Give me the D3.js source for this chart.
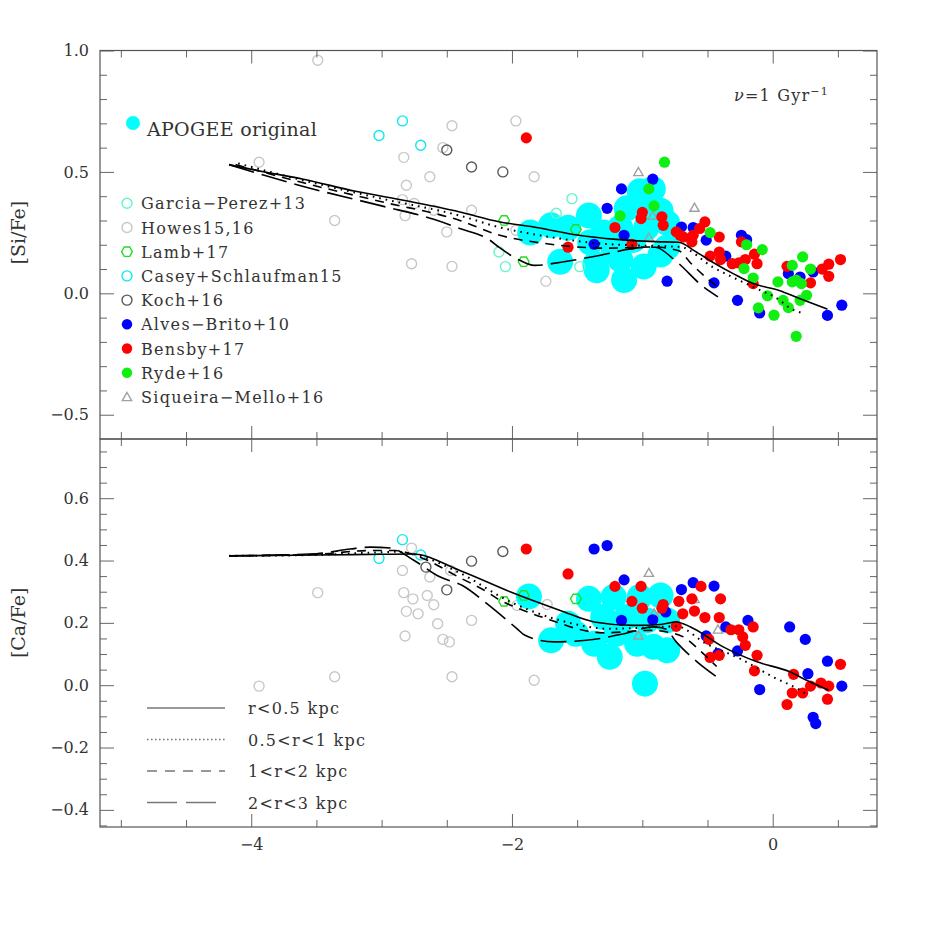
<!DOCTYPE html>
<html>
<head>
<meta charset="utf-8">
<script src="https://cdn.jsdelivr.net/npm/d3@7"></script>
<style>
  body { margin: 0; background: #fff; }
  svg text { font-family: "DejaVu Serif", serif; fill: #333; }
</style>
</head>
<body>
<svg id="chart" width="926" height="926"></svg>
<script>
// ---- [Si/Fe] panel data ([Fe/H], [Si/Fe]) ----
const siHowes = [[-3.49,0.96],[-3.94,0.54],[-3.36,0.30],[-2.83,0.56],[-2.63,0.48],[-2.81,0.445],[-2.84,0.386],[-2.75,0.37],[-2.82,0.32],[-2.6,0.342],[-2.31,0.342],[-2.50,0.253],[-2.77,0.122],[-2.46,0.111],[-2.46,0.69],[-2.53,0.60],[-1.97,0.71],[-1.83,0.48],[-1.74,0.05],[-1.97,0.26]]
const siGarcia = [[-1.54,0.39],[-1.66,0.33],[-2.10,0.17],[-2.05,0.11],[-1.48,0.11]]
const siLamb = [[-2.06,0.30],[-1.91,0.13],[-1.51,0.263]]
const siCasey = [[-3.02,0.65],[-2.84,0.71],[-2.70,0.61]]
const siKoch = [[-2.50,0.59],[-2.31,0.52],[-2.07,0.50]]
const siSiqueira = [[-1.03,0.50],[-0.60,0.353],[-0.92,0.32],[-0.95,0.23]]
const siApogee = [[-1.86,0.25],[-1.70,0.28],[-1.57,0.27],[-1.41,0.32],[-1.40,0.21],[-1.63,0.13],[-1.36,0.12],[-1.35,0.095],[-1.14,0.055],[-1.22,0.18],[-1.12,0.35],[-1.02,0.42],[-0.92,0.43],[-0.94,0.38],[-0.86,0.34],[-0.81,0.29],[-0.97,0.27],[-1.17,0.27],[-1.07,0.22],[-0.86,0.16],[-0.99,0.11],[-1.17,0.14],[-1.30,0.25],[-0.81,0.19]]
const siAlves = [[-0.92,0.47],[-1.16,0.43],[-1.27,0.35],[-1.14,0.239],[-1.37,0.202],[-0.81,0.05],[-0.70,0.273],[-0.61,0.271],[-0.51,0.219],[-0.36,0.153],[-0.45,0.043],[-0.24,0.239],[-0.20,0.221],[-0.27,-0.029],[-0.10,-0.081],[0.12,0.081],[0.31,0.088],[0.42,-0.091],[0.53,-0.049],[0.21,0.067]]
const siBensby = [[-1.89,0.64],[-1.21,0.271],[-1.0,0.333],[-1.01,0.308],[-0.85,0.315],[-0.84,0.28],[-1.57,0.19],[-1.08,0.202],[-0.74,0.253],[-0.71,0.239],[-0.685,0.232],[-0.62,0.212],[-0.61,0.239],[-0.56,0.267],[-0.52,0.294],[-0.41,0.232],[-0.48,0.153],[-0.41,0.17],[-0.40,0.139],[-0.31,0.122],[-0.26,0.125],[-0.21,0.139],[-0.14,0.161],[-0.12,0.122],[-0.24,0.212],[-0.15,0.04],[0.11,0.111],[0.29,0.043],[0.38,0.10],[0.43,0.12],[0.43,0.07],[0.52,0.139]]
const siRyde = [[-0.83,0.54],[-0.95,0.43],[-0.91,0.36],[-1.17,0.319],[-0.48,0.25],[-0.20,0.20],[-0.08,0.18],[-0.22,0.102],[-0.15,0.063],[-0.04,-0.01],[-0.11,-0.06],[0.01,-0.09],[0.04,0.047],[0.08,-0.029],[0.12,-0.059],[0.15,0.115],[0.23,0.15],[0.29,0.10],[0.15,0.047],[0.18,0.054],[0.22,0.04],[0.26,-0.008],[0.21,-0.029],[0.18,-0.177]]
// model tracks, [Si/Fe]
const siModelR05 = [[-4.17,0.53],[-3.9,0.50],[-3.6,0.47],[-3.2,0.42],[-2.8,0.38],[-2.4,0.335],[-2.1,0.295],[-1.8,0.27],[-1.5,0.24],[-1.2,0.222],[-0.9,0.213],[-0.72,0.21],[-0.6,0.175],[-0.45,0.125],[-0.3,0.08],[-0.15,0.04],[0.05,0.012],[0.2,-0.02],[0.42,-0.065]]
const siModelR1 = [[-4.1,0.535],[-3.6,0.465],[-3.0,0.39],[-2.4,0.32],[-2.09,0.271],[-1.8,0.24],[-1.32,0.205],[-0.9,0.195],[-0.71,0.191],[-0.46,0.108],[-0.15,0.026],[0.056,-0.029],[0.13,-0.06],[0.22,-0.08]]
const siModelR2 = [[-4.12,0.53],[-3.6,0.455],[-3.0,0.377],[-2.4,0.30],[-2.1,0.24],[-1.76,0.206],[-1.25,0.186],[-0.92,0.191],[-0.72,0.175],[-0.63,0.125],[-0.5,0.06],[-0.43,0.03]]
const siModelR3 = [[-4.17,0.53],[-3.6,0.44],[-3.0,0.36],[-2.6,0.305],[-2.4,0.267],[-2.17,0.219],[-2.1,0.19],[-1.94,0.136],[-1.83,0.115],[-1.6,0.13],[-1.32,0.157],[-1.02,0.188],[-0.9,0.19],[-0.75,0.136],[-0.53,0.026],[-0.42,-0.015]]

// ---- [Ca/Fe] panel data ----
const caHowes = [[-2.77,0.44],[-2.84,0.368],[-2.63,0.347],[-2.83,0.297],[-2.76,0.277],[-2.65,0.288],[-2.60,0.258],[-2.81,0.237],[-2.72,0.229],[-2.57,0.197],[-2.82,0.158],[-2.53,0.147],[-2.48,0.139],[-2.31,0.208],[-2.46,0.027],[-3.36,0.027],[-3.94,-0.003],[-3.49,0.297],[-2.47,0.368],[-1.96,0.256],[-1.73,0.259],[-1.83,0.016]]
const caCasey = [[-2.84,0.467],[-3.02,0.407],[-2.70,0.418]]
const caKoch = [[-2.66,0.379],[-2.50,0.306],[-2.31,0.398],[-2.07,0.429]]
const caLamb = [[-2.06,0.269],[-1.91,0.288],[-1.51,0.277]]
const caSiqueira = [[-0.95,0.361],[-0.91,0.231],[-1.03,0.16],[-0.42,0.179],[-0.60,0.277]]
const caApogee = [[-1.87,0.285],[-1.70,0.144],[-1.57,0.197],[-1.55,0.176],[-1.41,0.277],[-1.37,0.133],[-1.30,0.219],[-1.25,0.091],[-1.22,0.283],[-1.20,0.165],[-1.12,0.219],[-1.04,0.133],[-1.02,0.283],[-0.965,0.208],[-0.915,0.123],[-0.86,0.288],[-0.81,0.208],[-0.81,0.112],[-0.98,0.005],[-1.51,0.165]]
const caAlves = [[-1.37,0.437],[-1.27,0.448],[-1.14,0.338],[-1.16,0.208],[-0.92,0.21],[-0.82,0.235],[-0.70,0.307],[-0.61,0.329],[-0.45,0.318],[-0.36,0.187],[-0.51,0.158],[-0.27,0.11],[-0.19,0.208],[-0.42,0.101],[-0.10,-0.014],[0.13,0.187],[0.25,0.147],[0.27,0.037],[0.42,0.077],[0.53,-0.003],[0.31,-0.103],[0.33,-0.123]]
const caBensby = [[-1.89,0.437],[-1.57,0.357],[-1.21,0.317],[-1.01,0.317],[-1.08,0.269],[-1.0,0.247],[-0.84,0.259],[-0.85,0.247],[-0.72,0.269],[-0.69,0.229],[-0.74,0.189],[-0.62,0.277],[-0.55,0.317],[-0.60,0.238],[-0.52,0.217],[-0.40,0.277],[-0.41,0.217],[-0.49,0.147],[-0.48,0.089],[-0.41,0.096],[-0.32,0.178],[-0.26,0.178],[-0.23,0.155],[-0.21,0.128],[-0.15,0.187],[-0.12,0.096],[-0.14,0.046],[0.16,0.035],[0.15,-0.025],[0.11,-0.062],[0.23,-0.025],[0.29,-0.003],[0.37,0.007],[0.43,-0.003],[0.42,-0.045],[0.52,0.067]]
// model tracks, [Ca/Fe]
const caModelR05 = [[-4.17,0.415],[-3.5,0.418],[-3.0,0.42],[-2.76,0.421],[-2.4,0.368],[-2.01,0.299],[-1.63,0.24],[-1.37,0.203],[-1.07,0.192],[-0.86,0.195],[-0.74,0.203],[-0.63,0.187],[-0.38,0.123],[-0.12,0.075],[0.13,0.043],[0.26,0.016],[0.43,-0.016]]
const caModelR1 = [[-4.17,0.415],[-3.5,0.418],[-3.1,0.425],[-2.9,0.428],[-2.75,0.42],[-2.4,0.36],[-2.01,0.267],[-1.63,0.208],[-1.25,0.181],[-0.86,0.187],[-0.74,0.189],[-0.51,0.133],[-0.25,0.085],[0.0,0.027],[0.21,-0.016],[0.28,-0.035]]
const caModelR2 = [[-4.17,0.415],[-3.5,0.42],[-3.1,0.432],[-2.9,0.432],[-2.7,0.41],[-2.4,0.345],[-2.19,0.299],[-2.11,0.277],[-1.91,0.24],[-1.66,0.203],[-1.5,0.181],[-1.3,0.168],[-0.94,0.176],[-0.8,0.17],[-0.685,0.155],[-0.56,0.112],[-0.43,0.06]]
const caModelR3 = [[-4.17,0.415],[-3.5,0.422],[-3.24,0.437],[-3.09,0.443],[-2.93,0.44],[-2.75,0.40],[-2.55,0.347],[-2.38,0.32],[-2.19,0.261],[-1.96,0.181],[-1.9,0.16],[-1.68,0.139],[-1.43,0.144],[-1.14,0.165],[-0.915,0.187],[-0.82,0.18],[-0.74,0.139],[-0.58,0.075],[-0.43,0.027]]

const sourceNames = ["Garcia\u2212Perez+13", "Howes15,16", "Lamb+17", "Casey+Schlaufman15", "Koch+16", "Alves\u2212Brito+10", "Bensby+17", "Ryde+16", "Siqueira\u2212Mello+16"]
const modelNames = ["r<0.5 kpc", "0.5<r<1 kpc", "1<r<2 kpc", "2<r<3 kpc"]

// styles for each source
const styles = {
  garcia: { shape: "circle", color: "#66f5cc" },
  howes: { shape: "circle", color: "#c8c8c8" },
  lamb: { shape: "hex", color: "#22dd22" },
  casey: { shape: "circle", color: "#10e8f0" },
  koch: { shape: "circle", color: "#5a5a5a" },
  alves: { shape: "dot", color: "#0000ff" },
  bensby: { shape: "dot", color: "#ff0000" },
  ryde: { shape: "dot", color: "#11ee11" },
  siqueira: { shape: "tri", color: "#a0a0a0" },
}
const legendKeys = ["garcia", "howes", "lamb", "casey", "koch", "alves", "bensby", "ryde", "siqueira"]
const dashes = [null, "1.6 5", "9 7", "26 8"]

const svg = d3.select("#chart")
const left = 100, right = 877
const x = d3.scaleLinear().domain([-5.16, 0.80]).range([left, right])
const ySi = d3.scaleLinear().domain([-0.6, 1.0]).range([439, 50.5])
const yCa = d3.scaleLinear().domain([-0.455, 0.79]).range([827, 439])

const hexPath = (r) => {
  const pts = d3.range(6).map((i) => [r * Math.cos((Math.PI / 3) * i), r * Math.sin((Math.PI / 3) * i)])
  return "M" + pts.map((p) => p.join(",")).join("L") + "Z"
}
const triPath = d3.symbol().type(d3.symbolTriangle).size(38)()

// draw one symbol of a source
function drawMarker(sel, key) {
  const st = styles[key]
  if (st.shape === "circle") {
    sel.append("circle").attr("r", 5).attr("fill", "none").attr("stroke", st.color).attr("stroke-width", 1.4)
  } else if (st.shape === "dot") {
    sel.append("circle").attr("r", 5.6).attr("fill", st.color)
  } else if (st.shape === "hex") {
    sel.append("path").attr("d", hexPath(5.4)).attr("fill", "none").attr("stroke", st.color).attr("stroke-width", 1.4)
  } else {
    sel.append("path").attr("d", triPath).attr("transform", "translate(0,1)").attr("fill", "none").attr("stroke", st.color).attr("stroke-width", 1.4)
  }
}

function drawPoints(g, y, data, key) {
  g.append("g").selectAll("g").data(data).join("g")
    .attr("transform", (d) => `translate(${x(d[0])},${y(d[1])})`)
    .each(function () { drawMarker(d3.select(this), key) })
}

function drawPanel(y, sets, apogee, models, clipId) {
  const [y0, y1] = y.range()
  svg.append("clipPath").attr("id", clipId).append("rect")
    .attr("x", left).attr("y", y1).attr("width", right - left).attr("height", y0 - y1)
  const g = svg.append("g").attr("clip-path", `url(#${clipId})`)
  drawPoints(g, y, sets.howes || [], "howes")
  g.append("g").selectAll("circle").data(apogee).join("circle")
    .attr("cx", (d) => x(d[0])).attr("cy", (d) => y(d[1])).attr("r", 13).attr("fill", "#00ffff")
  ;["garcia", "casey", "koch", "lamb", "siqueira", "alves", "bensby", "ryde"].forEach((k) => {
    if (sets[k]) drawPoints(g, y, sets[k], k)
  })
  const line = d3.line().x((d) => x(d[0])).y((d) => y(d[1])).curve(d3.curveMonotoneX)
  models.forEach((m, i) => {
    g.append("path").attr("d", line(m)).attr("fill", "none").attr("stroke", "#000")
      .attr("stroke-width", i === 1 ? 2 : 1.6).attr("stroke-dasharray", dashes[i])
  })
}

drawPanel(ySi, { howes: siHowes, garcia: siGarcia, lamb: siLamb, casey: siCasey, koch: siKoch, siqueira: siSiqueira, alves: siAlves, bensby: siBensby, ryde: siRyde }, siApogee, [siModelR05, siModelR1, siModelR2, siModelR3], "clipSi")
drawPanel(yCa, { howes: caHowes, lamb: caLamb, casey: caCasey, koch: caKoch, siqueira: caSiqueira, alves: caAlves, bensby: caBensby }, caApogee, [caModelR05, caModelR1, caModelR2, caModelR3], "clipCa")

// ---- axes ----
const xMajor = [-4, -2, 0]
const xMinor = d3.range(-10, 2).map((i) => i * 0.5).filter((v) => !xMajor.includes(v))
function styleAxis(g) {
  g.select(".domain").remove()
  g.selectAll("line").attr("stroke", "#666")
  g.selectAll("text").attr("font-family", "DejaVu Serif, serif").attr("font-size", 16).attr("fill", "#444")
}
function drawFrame(y, majorY, minorY, showX) {
  const [y0, y1] = y.range()
  const fmt = d3.format(".1f")
  const sides = [
    [d3.axisLeft, left], [d3.axisRight, right],
  ]
  sides.forEach(([ax, pos], i) => {
    svg.append("g").attr("transform", `translate(${pos},0)`)
      .call(ax(y).tickValues(minorY).tickSize(-7).tickFormat("")).call(styleAxis)
    svg.append("g").attr("transform", `translate(${pos},0)`)
      .call(ax(y).tickValues(majorY).tickSize(-14).tickPadding(11).tickFormat(i === 0 ? fmt : "")).call(styleAxis)
  })
  ;[[d3.axisTop, y1, false], [d3.axisBottom, y0, showX]].forEach(([ax, pos, lab]) => {
    svg.append("g").attr("transform", `translate(0,${pos})`)
      .call(ax(x).tickValues(xMinor).tickSize(-7).tickFormat("")).call(styleAxis)
    svg.append("g").attr("transform", `translate(0,${pos})`)
      .call(ax(x).tickValues(xMajor).tickSize(-13).tickPadding(12).tickFormat(lab ? d3.format("d") : "")).call(styleAxis)
  })
  svg.append("rect").attr("x", left).attr("y", y1).attr("width", right - left).attr("height", y0 - y1)
    .attr("fill", "none").attr("stroke", "#555").attr("stroke-width", 1.2)
}
drawFrame(ySi, [-0.5, 0, 0.5, 1.0], d3.range(-5, 10).filter((i) => i % 5 !== 0).map((i) => i / 10), false)
drawFrame(yCa, [-0.4, -0.2, 0, 0.2, 0.4, 0.6], d3.range(-9, 16).filter((i) => i % 4 !== 0).map((i) => i * 0.05), true)

// ---- axis titles ----
svg.append("text").attr("transform", `translate(25,${ySi(0.25)}) rotate(-90)`)
  .attr("text-anchor", "middle").attr("font-size", 19).text("[Si/Fe]")
svg.append("text").attr("transform", `translate(25,${yCa(0.2)}) rotate(-90)`)
  .attr("text-anchor", "middle").attr("font-size", 19).text("[Ca/Fe]")

// ---- annotation ----
const nu = svg.append("text").attr("x", 734).attr("y", 101).attr("font-size", 16).attr("letter-spacing", 1.2)
nu.append("tspan").attr("font-style", "italic").text("\u03bd")
nu.append("tspan").text("=1  Gyr")
nu.append("tspan").attr("font-size", 11).attr("dy", -6).text("\u22121")

// ---- source legend ----
svg.append("circle").attr("cx", 133).attr("cy", 123).attr("r", 7).attr("fill", "#00ffff")
svg.append("text").attr("x", 147).attr("y", 136).attr("font-size", 19).attr("letter-spacing", 0.3).text("APOGEE original")
const leg = svg.append("g").selectAll("g").data(legendKeys).join("g")
  .attr("transform", (d, i) => `translate(127,${203.3 + i * 24.2})`)
leg.each(function (k) { drawMarker(d3.select(this), k) })
leg.append("text").attr("x", 14).attr("y", 6).attr("font-size", 16).attr("letter-spacing", 1.3)
  .text((d, i) => sourceNames[i])
leg.filter((k) => styles[k].shape === "dot").select("circle").attr("r", 5.2)

// ---- model legend ----
const mleg = svg.append("g").selectAll("g").data(modelNames).join("g")
  .attr("transform", (d, i) => `translate(147,${708 + i * 31.5})`)
mleg.append("line").attr("x1", 0).attr("x2", 78).attr("stroke", "#777").attr("stroke-width", 1.4)
  .attr("stroke-dasharray", (d, i) => [null, "1.6 2.4", "10 8", "30 9"][i])
mleg.append("text").attr("x", 101).attr("y", 6).attr("font-size", 16).attr("letter-spacing", 1.3).text((d) => d)
</script>
</body>
</html>
